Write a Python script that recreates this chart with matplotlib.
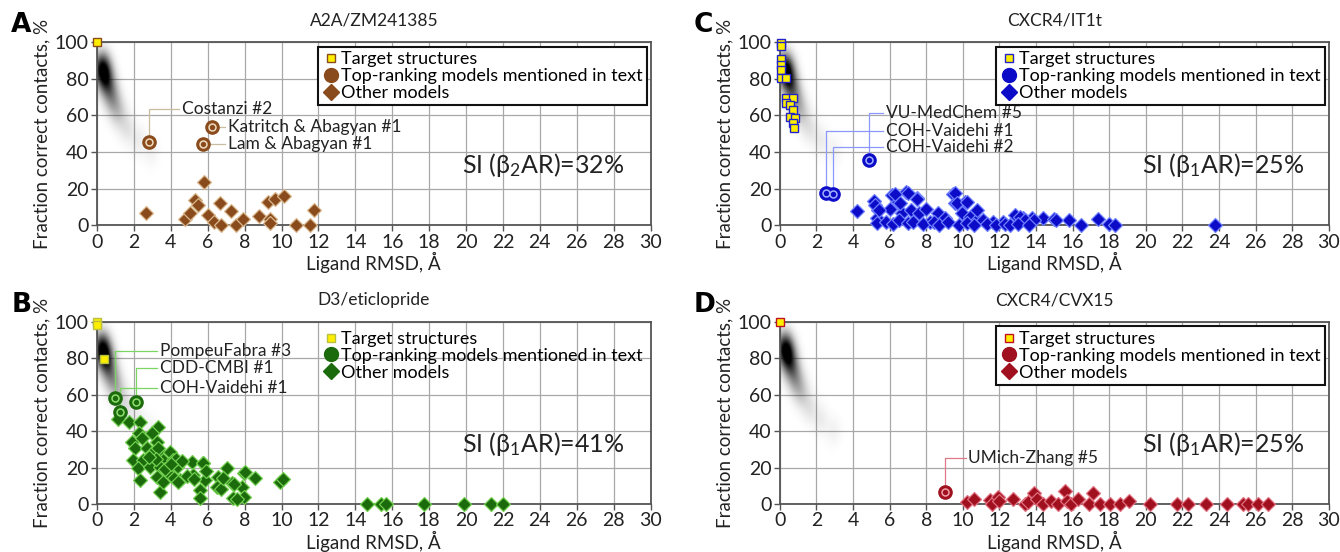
"""
Ligand RMSD vs fraction of correct contacts, four targets (A-D)
"""
import numpy as np
import matplotlib
matplotlib.use('Agg')
import matplotlib.pyplot as plt
from matplotlib.lines import Line2D

plt.rcParams['font.family'] = ['Lato', 'DejaVu Sans']
plt.rcParams['mathtext.default'] = 'regular'

# ---- data --------------------------------------------------------------
# A: A2A/ZM241385
a_target_x = [0.0]
a_target_y = [100]
a_top_x = [2.82, 6.21, 5.72]
a_top_y = [45.5, 53.5, 44.2]
a_top_names = ['Costanzi #2', 'Katritch & Abagyan #1', 'Lam & Abagyan #1']
a_other_x = [2.65, 4.78, 5.03, 5.31, 5.45, 5.82, 6.0, 6.35, 6.69, 6.74, 7.25,
             7.55, 7.9, 8.8, 9.28, 9.37, 9.37, 9.65, 10.15, 10.78, 11.54, 11.75]
a_other_y = [6.7, 3.6, 6.9, 13.6, 11.1, 23.6, 5.5, 1.8, 12.2, 0, 7.8,
             0, 3.6, 4.9, 12.7, 3.6, 1.0, 14.5, 15.8, 0, 0, 8.2]

# B: D3/eticlopride
b_target_x = [0.0, 0.0, 0.37]
b_target_y = [100, 98, 79.5]
b_top_x = [0.97, 2.12, 1.25]
b_top_y = [58, 56.2, 50.7]
b_top_names = ['PompeuFabra #3', 'CDD-CMBI #1', 'COH-Vaidehi #1']
b_other_x = [1.16, 1.75, 2.33, 3.33, 2.3, 2.96, 1.88, 3.24, 2.06, 2.69, 3.42,
             3.96, 1.97, 2.51, 3.6, 4.14, 5.13, 2.24, 2.88, 3.42, 4.32, 5.77,
             7.03, 2.33, 3.24, 3.96, 4.5, 5.22, 5.86, 6.58, 6.49, 7.3, 7.94,
             8.57, 7.84, 3.42, 5.59, 5.59, 7.39, 7.94, 9.93, 10.1, 2.42, 3.0,
             3.28, 3.18, 3.8, 4.27, 4.15, 4.38, 4.6, 4.85, 5.25, 5.72, 5.88,
             6.74, 6.85, 7.4, 7.6, 8.03, 3.7, 4.0, 2.8, 3.55,
             14.65, 15.4, 15.65, 17.7, 19.9, 21.35, 22.0]
b_other_y = [46.5, 45.2, 45.2, 42.5, 39.2, 39.2, 34.2, 34.2, 30.6, 30.6, 28.7,
             28.7, 24.2, 24.2, 24.2, 24.2, 23.2, 19.6, 20.1, 20.1, 20.1, 22.3,
             19.6, 13.2, 15.0, 16.9, 13.2, 15.9, 13.2, 15.0, 9.5, 11.4, 16.9,
             14.1, 9.5, 6.8, 7.7, 3.1, 3.1, 4.0, 12.3, 13.6, 36.4, 28.2,
             30.9, 24.5, 17.3, 24.5, 14.5, 11.8, 23.6, 15.5, 13.6, 22.7, 18.2,
             8.2, 14.5, 10.9, 2.7, 17.3, 19.0, 22.0, 26.0, 12.0,
             0, 0, 0, 0, 0, 0, 0]

# C: CXCR4/IT1t
c_target_x = [0.05, 0.05, 0.05, 0.05, 0.05, 0.05, 0.31, 0.33, 0.73, 0.36,
              0.55, 0.69, 0.58, 0.82, 0.73, 0.77]
c_target_y = [99.6, 98, 90.5, 87.4, 84.7, 80.2, 80.2, 69.6, 69.6, 66.5,
              65.6, 62.8, 58.8, 58.3, 55.6, 52.8]
c_top_x = [4.88, 2.52, 2.91]
c_top_y = [35.5, 17.8, 17.0]
c_top_names = ['VU-MedChem #5', 'COH-Vaidehi #1', 'COH-Vaidehi #2']
c_other_x = [4.22, 5.16, 5.37, 5.28, 6.1, 6.01, 6.46, 6.65, 6.89, 7.19, 7.5,
             7.61, 8.01, 8.2, 8.65, 9.0, 9.47, 9.56, 10.1, 9.93, 10.38, 10.75,
             11.1, 11.66, 12.2, 12.84, 13.3, 13.75, 14.4, 14.97, 15.78, 16.43,
             17.4, 17.98, 18.33, 23.76, 13.1, 13.4, 13.9, 15.1,
             5.3, 5.8, 6.2, 6.5, 7.0, 7.3, 7.8, 8.4, 8.7, 9.2, 9.8, 10.2, 10.6,
             11.3, 11.8, 12.3, 12.6, 13.0, 13.6,
             5.22, 5.43, 6.31, 6.54, 7.0, 7.51, 9.55, 9.66, 10.24, 10.77]
c_other_y = [7.7, 13.3, 8.2, 3.7, 16.4, 9.1, 12.8, 6.4, 18.2, 8.2, 15.1,
             6.4, 9.1, 1.8, 6.4, 3.7, 17.3, 11.9, 12.8, 6.4, 4.6, 2.7,
             2.7, 1.8, 1.8, 5.5, 3.7, 3.7, 3.7, 3.3, 2.7, 0,
             3.6, 0.9, 0, 0, 4.5, 2.7, 3.1, 3.1,
             1.0, 2.0, 0.5, 3.0, 1.0, 2.0, 0.5, 1.5, 0, 2.0, 0, 1.0, 0,
             0.5, 0, 0.5, 0, 0.5, 0,
             11.3, 8.2, 17.3, 12.2, 17.6, 14.5, 17.6, 12.2, 12.7, 8.2]

# D: CXCR4/CVX15
d_target_x = [0.0]
d_target_y = [100]
d_top_x = [9.0]
d_top_y = [6.4]
d_top_names = ['UMich-Zhang #5']
d_other_x = [10.2, 10.6, 11.5, 11.6, 11.9, 12.0, 12.75, 13.4, 13.55, 13.9,
             14.05, 14.4, 14.8, 15.2, 15.6, 15.7, 15.9, 16.3, 16.9, 17.1, 17.5,
             18.05, 18.6, 19.1, 20.25, 21.7, 22.3, 23.3, 24.45, 25.3, 25.6,
             26.1, 26.65]
d_other_y = [1.3, 2.7, 2.4, 0, 3.6, 1.8, 2.7, 0, 1.3, 5.8,
             2.7, 0, 1.8, 0, 7.3, 1.8, 0, 2.7, 0, 5.8, 0,
             0, 0, 1.8, 0, 0, 0, 0, 0, 0, 0,
             0, 0]

# grey reference density (centres of the smear seen behind every panel)
blob_x = [0.25, 0.4, 0.6, 0.85, 1.15, 1.6, 2.2, 2.9]
blob_y = [86, 81, 75, 68, 61, 53, 46, 40]
blob_w = [1.0, 0.85, 0.55, 0.35, 0.2, 0.1, 0.06, 0.04]

titles = ['A2A/ZM241385', 'D3/eticlopride', 'CXCR4/IT1t', 'CXCR4/CVX15']
si_labels = ['SI (β$_2$AR)=32%', 'SI (β$_1$AR)=41%',
             'SI (β$_1$AR)=25%', 'SI (β$_1$AR)=25%']

# ---- styling per panel -------------------------------------------------
panels = [
    dict(letter='A', pos=[0.0724, 0.592, 0.4131, 0.332], dark='#8a4b1c',
         light='#d9b98f', line='#c9bda0', tedge='#8a4b1c', ring='#f0dcc0',
         frame=True,
         tx=a_target_x, ty=a_target_y, ox=a_other_x, oy=a_other_y,
         px=a_top_x, py=a_top_y, names=a_top_names,
         notes=[('up', 63.5, 4.6), ('right', None, 7.1), ('right', None, 7.1)]),
    dict(letter='B', pos=[0.0724, 0.087, 0.4131, 0.330], dark='#1b6a0c',
         light='#72d04f', line='#7ad660', tedge='#b8c040', ring='#8fe070',
         frame=False,
         tx=b_target_x, ty=b_target_y, ox=b_other_x, oy=b_other_y,
         px=b_top_x, py=b_top_y, names=b_top_names,
         notes=[('up', 84, 3.4), ('up', 74.5, 3.4), ('up', 63.8, 3.4)]),
    dict(letter='C', pos=[0.582, 0.592, 0.4097, 0.332], dark='#0c0cc8',
         light='#6f80ff', line='#8a98ff', tedge='#2222cc', ring='#a0b0ff',
         frame=True,
         tx=c_target_x, ty=c_target_y, ox=c_other_x, oy=c_other_y,
         px=c_top_x, py=c_top_y, names=c_top_names,
         notes=[('up', 61, 5.8), ('up', 51.5, 5.8), ('up', 42.5, 5.8)]),
    dict(letter='D', pos=[0.582, 0.087, 0.4097, 0.330], dark='#a0101e',
         light='#e07080', line='#e07888', tedge='#c01020', ring='#f0a0a8',
         frame=True,
         tx=d_target_x, ty=d_target_y, ox=d_other_x, oy=d_other_y,
         px=d_top_x, py=d_top_y, names=d_top_names,
         notes=[('up', 25.5, 10.3)]),
]
order_titles = {'A': 0, 'B': 1, 'C': 2, 'D': 3}

fig = plt.figure(figsize=(13.4, 5.52), dpi=100)

# density image shared by all panels
gx = np.linspace(0, 30, 600)
gy = np.linspace(0, 100, 300)
GX, GY = np.meshgrid(gx, gy)
dens = np.zeros_like(GX)
for bx, by, bw in zip(blob_x, blob_y, blob_w):
    dens += bw * np.exp(-((GX - bx) / 0.4) ** 2 - ((GY - by) / 7.5) ** 2)
dens = np.clip(dens / dens.max(), 0, 1)
rgba = np.zeros(dens.shape + (4,))
rgba[..., 3] = np.clip(1.25 * dens ** 0.85, 0, 1)

for p in panels:
    i = order_titles[p['letter']]
    ax = fig.add_axes(p['pos'])
    ax.set_xlim(0, 30)
    ax.set_ylim(0, 100)
    ax.set_xticks(range(0, 31, 2))
    ax.set_yticks(range(0, 101, 20))
    ax.grid(True, color='#a8a8a8', lw=0.9)
    ax.set_axisbelow(True)
    for s in ax.spines.values():
        s.set_color('#555555')
        s.set_linewidth(1.3)
    ax.tick_params(labelsize=14, colors='#222222', length=4, width=1,
                   pad=2, color='#555555')
    ax.set_xlabel('Ligand RMSD, Å', fontsize=13.5, color='#222222', labelpad=1)
    ax.set_ylabel('Fraction correct contacts, %', fontsize=13.5,
                  color='#222222', labelpad=3)
    ax.set_title(titles[i], fontsize=12.5, color='#222222', pad=12)

    ax.imshow(rgba, extent=[0, 30, 0, 100], origin='lower', aspect='auto',
              zorder=1.5, interpolation='bilinear')

    # leader lines + labels
    for (kind, cy, tx), mx, my, name in zip(p['notes'], p['px'], p['py'],
                                            p['names']):
        if kind == 'up':
            ax.plot([mx, mx, tx - 0.15], [my, cy, cy], color=p['line'],
                    lw=0.9, zorder=2)
            ax.text(tx, cy, name, fontsize=12.5, va='center', ha='left',
                    color='#222222', zorder=2)
        else:
            ax.plot([mx, tx - 0.15], [my, my], color=p['line'], lw=0.9,
                    zorder=2)
            ax.text(tx, my, name, fontsize=12.5, va='center', ha='left',
                    color='#222222', zorder=2)

    ax.plot(p['ox'], p['oy'], 'D', ms=7.5, mfc=p['dark'], mec=p['light'],
            mew=0.9, ls='none', clip_on=False, zorder=3)
    ax.plot(p['px'], p['py'], 'o', ms=9.5, mfc=p['dark'], mec=p['dark'],
            ls='none', clip_on=False, zorder=4)
    ax.plot(p['px'], p['py'], 'o', ms=5, mfc=p['dark'], mec=p['ring'],
            mew=1.1, ls='none', clip_on=False, zorder=4)
    ax.plot(p['tx'], p['ty'], 's', ms=6, mfc='#ffee00', mec=p['tedge'],
            mew=1.0, ls='none', clip_on=False, zorder=5)

    ax.text(19.8, 33, si_labels[i], fontsize=18, color='#222222',
            va='center', ha='left', zorder=2)

    handles = [
        Line2D([], [], marker='s', ms=6, mfc='#ffee00', mec=p['tedge'],
               ls='none'),
        Line2D([], [], marker='o', ms=10, mfc=p['dark'], mec=p['dark'],
               ls='none'),
        Line2D([], [], marker='D', ms=8.5, mfc=p['dark'], mec=p['dark'],
               ls='none'),
    ]
    leg = ax.legend(handles, ['Target structures',
                              'Top-ranking models mentioned in text',
                              'Other models'],
                    loc='upper right', bbox_to_anchor=(0.993, 0.975),
                    fontsize=13, frameon=p['frame'], fancybox=False,
                    borderpad=0.25, labelspacing=0.05, handletextpad=0.1,
                    handlelength=0.9, borderaxespad=0)
    leg.set_zorder(6)
    if p['frame']:
        leg.get_frame().set_edgecolor('#111111')
        leg.get_frame().set_linewidth(1.5)
    leg.get_frame().set_alpha(1)

    x0, y0, w, h = p['pos']
    fig.text(x0 - 0.064, y0 + h + 0.03, p['letter'], fontsize=19,
             fontweight='bold', family='DejaVu Sans', ha='left', va='center')

plt.savefig('out.png', dpi=100)
